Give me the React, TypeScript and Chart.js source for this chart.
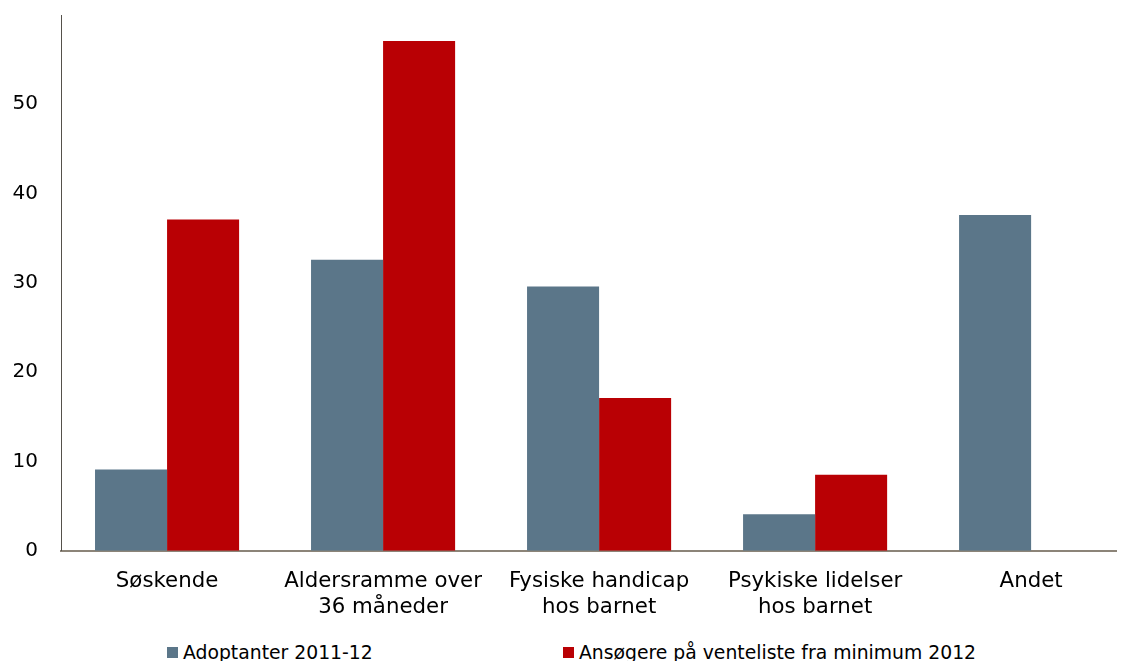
import React, { useEffect, useRef } from "react";
import { Chart, registerables } from "chart.js";

Chart.register(...registerables);

const categories: (string | string[])[] = [
  "Søskende",
  ["Aldersramme over", "36 måneder"],
  ["Fysiske handicap", "hos barnet"],
  ["Psykiske lidelser", "hos barnet"],
  "Andet",
];
const seriesNames = ["Adoptanter 2011-12", "Ansøgere på venteliste fra minimum 2012"];
const adoptanter = [9.1, 32.6, 29.6, 4.1, 37.6];
const ansogere = [37.1, 57.1, 17.1, 8.5, 0];
const yTicks = [0, 10, 20, 30, 40, 50, 60];
const colors = ["#5b7689", "#b90004"];
const FONT = "'DejaVu Sans', Verdana, sans-serif";

// visible category window (the source chart is cut off on the right)
const X_START = -0.491;
const X_RANGE = 4.884;

export default function App() {
  const ref = useRef<HTMLCanvasElement>(null);
  useEffect(() => {
    if (!ref.current) return;
    const chart = new Chart(ref.current, {
      type: "bar",
      data: {
        labels: categories,
        datasets: [
          { label: seriesNames[0], data: adoptanter, backgroundColor: colors[0], borderWidth: 0, categoryPercentage: 0.667, barPercentage: 1 },
          { label: seriesNames[1], data: ansogere, backgroundColor: colors[1], borderWidth: 0, categoryPercentage: 0.667, barPercentage: 1 },
        ],
      },
      options: {
        animation: false,
        responsive: false,
        maintainAspectRatio: false,
        layout: { padding: { top: 15, left: 13, right: 10, bottom: 2 } },
        plugins: { legend: { display: false }, tooltip: { enabled: false } },
        scales: {
          x: {
            offset: false,
            grid: { display: false, drawTicks: false },
            border: { display: true, color: "#8c8478", width: 2 },
            ticks: { color: "#000", font: { family: FONT, size: 21.3, lineHeight: 1.25 }, padding: 17, maxRotation: 0, autoSkip: false },
            afterBuildTicks: (s: any) => {
              s.ticks = categories.map((_, i) => ({ value: i }));
              s._startValue = X_START;
              s._valueRange = X_RANGE;
            },
            afterFit: (s: any) => { s.paddingLeft = 0; s.paddingRight = 0; },
          },
          y: {
            min: yTicks[0],
            max: yTicks[yTicks.length - 1],
            afterBuildTicks: (s: any) => { s.ticks = yTicks.map((v) => ({ value: v })); },
            afterFit: (s: any) => { s.paddingTop = 0; s.paddingBottom = 0; s.width = 48; },
            grid: { display: false, drawTicks: false },
            border: { display: true, color: "#55514b", width: 1 },
            ticks: {
              color: "#000",
              font: { family: FONT, size: 20 },
              padding: 23,
              callback: (v: any) => (v === 60 ? "" : String(v)),
            },
          },
        },
      },
    });
    return () => chart.destroy();
  }, []);

  const legendStyle: React.CSSProperties = {
    position: "absolute",
    top: 642.5,
    fontFamily: FONT,
    fontSize: 18.8,
    color: "#000",
    display: "flex",
    alignItems: "center",
    whiteSpace: "nowrap",
    lineHeight: "20px",
  };
  const box = (c: string): React.CSSProperties => ({ width: 11, height: 11, background: c, marginRight: 5, display: "inline-block" });

  return (
    <div style={{ position: "fixed", left: 0, top: 0, width: 1126, height: 661, overflow: "hidden", background: "#fff" }}>
      <canvas ref={ref} width={1126} height={640} style={{ position: "absolute", left: 0, top: 0 }} />
      <div style={{ ...legendStyle, left: 167 }}>
        <span style={box(colors[0])} />
        <span>{seriesNames[0]}</span>
      </div>
      <div style={{ ...legendStyle, left: 563 }}>
        <span style={box(colors[1])} />
        <span>{seriesNames[1]}</span>
      </div>
    </div>
  );
}
